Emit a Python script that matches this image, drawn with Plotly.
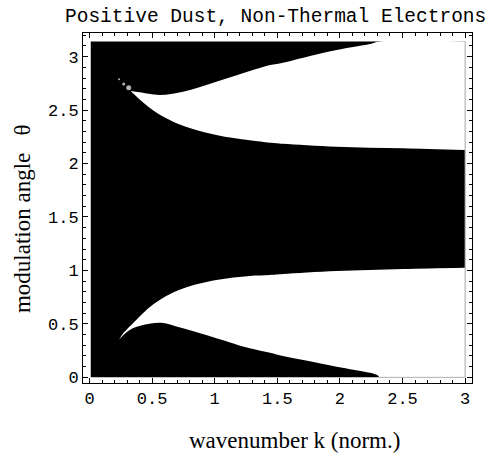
import plotly.graph_objects as go

# ── data ──────────────────────────────────────────────────────────────────────
K_MIN, K_MAX = 0.01, 3.0
THETA_MIN, THETA_MAX = 0.0, 3.1416

# lower white (stable) region
low_top_k = [0.236, 0.268, 0.294, 0.347, 0.48, 0.613, 0.747, 1.013, 1.28, 1.442, 1.545, 1.974, 2.506, 3.0]
low_top_t = [0.355, 0.41, 0.443, 0.505, 0.655, 0.76, 0.832, 0.91, 0.948, 0.957, 0.966, 0.994, 1.013, 1.025]
low_bot_k = [0.236, 0.321, 0.427, 0.573, 0.747, 1.013, 1.28, 1.442, 1.545, 1.708, 1.974, 2.24, 2.30, 2.32]
low_bot_t = [0.355, 0.443, 0.489, 0.511, 0.458, 0.365, 0.271, 0.23, 0.199, 0.162, 0.1, 0.043, 0.02, 0.0]

# upper white region
up_top_k = [0.329, 0.4, 0.561, 0.747, 1.013, 1.28, 1.442, 1.545, 1.708, 1.974, 2.24, 2.32]
up_top_t = [2.678, 2.666, 2.641, 2.672, 2.765, 2.865, 2.921, 2.943, 2.99, 3.062, 3.118, 3.1416]
up_bot_k = [0.329, 0.347, 0.48, 0.613, 0.747, 1.013, 1.28, 1.442, 1.545, 1.974, 2.506, 3.0]
up_bot_t = [2.678, 2.657, 2.522, 2.423, 2.354, 2.267, 2.217, 2.195, 2.185, 2.157, 2.142, 2.126]

# isolated white specks near the upper cusp
dot_k = [0.313, 0.273, 0.236]
dot_t = [2.709, 2.744, 2.788]
dot_size = [5, 3, 2]

x_ticks = [0, 0.5, 1, 1.5, 2, 2.5, 3]
x_labels = ["0", "0.5", "1", "1.5", "2", "2.5", "3"]
y_ticks = [0, 0.5, 1, 1.5, 2, 2.5, 3]
y_labels = ["0", "0.5", "1", "1.5", "2", "2.5", "3"]

MONO = "Liberation Mono, Courier New, monospace"
SERIF = "Liberation Serif, Times New Roman, serif"

fig = go.Figure()

# whole plotted domain black
fig.add_trace(go.Scatter(
    x=[K_MIN, K_MAX, K_MAX, K_MIN, K_MIN],
    y=[THETA_MIN, THETA_MIN, THETA_MAX, THETA_MAX, THETA_MIN],
    mode="lines", fill="toself", fillcolor="black",
    line=dict(width=0, color="black"), hoverinfo="skip",
))


def white_band(lo_k, lo_t, hi_k, hi_t):
    """White region between two smooth boundary curves (fill tonexty)."""
    fig.add_trace(go.Scatter(
        x=lo_k, y=lo_t, mode="lines",
        line=dict(width=0, color="white", shape="spline", smoothing=1.0),
        hoverinfo="skip",
    ))
    fig.add_trace(go.Scatter(
        x=hi_k, y=hi_t, mode="lines", fill="tonexty", fillcolor="white",
        line=dict(width=0, color="white", shape="spline", smoothing=1.0),
        hoverinfo="skip",
    ))


# lower region: bottom curve runs along theta=0 to the right edge
white_band(low_bot_k + [K_MAX], low_bot_t + [THETA_MIN], low_top_k, low_top_t)
# upper region: top curve runs along theta=pi to the right edge
white_band(up_bot_k, up_bot_t, up_top_k + [K_MAX], up_top_t + [THETA_MAX])

fig.add_trace(go.Scatter(
    x=dot_k, y=dot_t, mode="markers",
    marker=dict(color="white", size=dot_size, line=dict(width=0)),
    hoverinfo="skip",
))

# faint plot-range border on the white side
fig.add_trace(go.Scatter(
    x=[K_MAX, K_MAX, low_bot_k[-1]],
    y=[THETA_MAX, THETA_MIN, THETA_MIN],
    mode="lines", line=dict(width=1, color="#b0b0b0"), hoverinfo="skip",
))

axis_common = dict(
    showgrid=False, zeroline=False,
    showline=True, linecolor="black", linewidth=1, mirror="allticks",
    ticks="inside", ticklen=5, tickwidth=1, tickcolor="black",
    minor=dict(ticks="inside", ticklen=3, tickwidth=1, tickcolor="black", dtick=0.1),
    tickfont=dict(family=MONO, size=17, color="black"),
)

fig.update_layout(
    width=495, height=455,
    margin=dict(l=83, r=23, t=33, b=72),
    paper_bgcolor="white", plot_bgcolor="white",
    showlegend=False,
    xaxis=dict(range=[-0.052, 3.055], tickvals=x_ticks, ticktext=x_labels, **axis_common),
    yaxis=dict(range=[-0.053, 3.221], tickvals=y_ticks, ticktext=y_labels, **axis_common),
)

fig.add_annotation(
    x=0.494, y=1.046, xref="paper", yref="paper",
    text="Positive Dust, Non-Thermal Electrons",
    showarrow=False, xanchor="center", yanchor="middle",
    font=dict(family=MONO, size=19.5, color="black"),
)
fig.add_annotation(
    x=0.544, y=-0.163, xref="paper", yref="paper",
    text="wavenumber k (norm.)",
    showarrow=False, xanchor="center", yanchor="middle",
    font=dict(family=SERIF, size=23, color="black"),
)
fig.add_annotation(
    x=-0.157, y=0.471, xref="paper", yref="paper",
    text="modulation angle&nbsp;&nbsp;&nbsp;θ", textangle=-90,
    showarrow=False, xanchor="center", yanchor="middle",
    font=dict(family=SERIF, size=23, color="black"),
)

# drop the default 8px page margin so the 495x455 figure fills the window
fig.write_html("out.html", config={"displayModeBar": False},
               post_script="document.body.style.margin='0px';")
